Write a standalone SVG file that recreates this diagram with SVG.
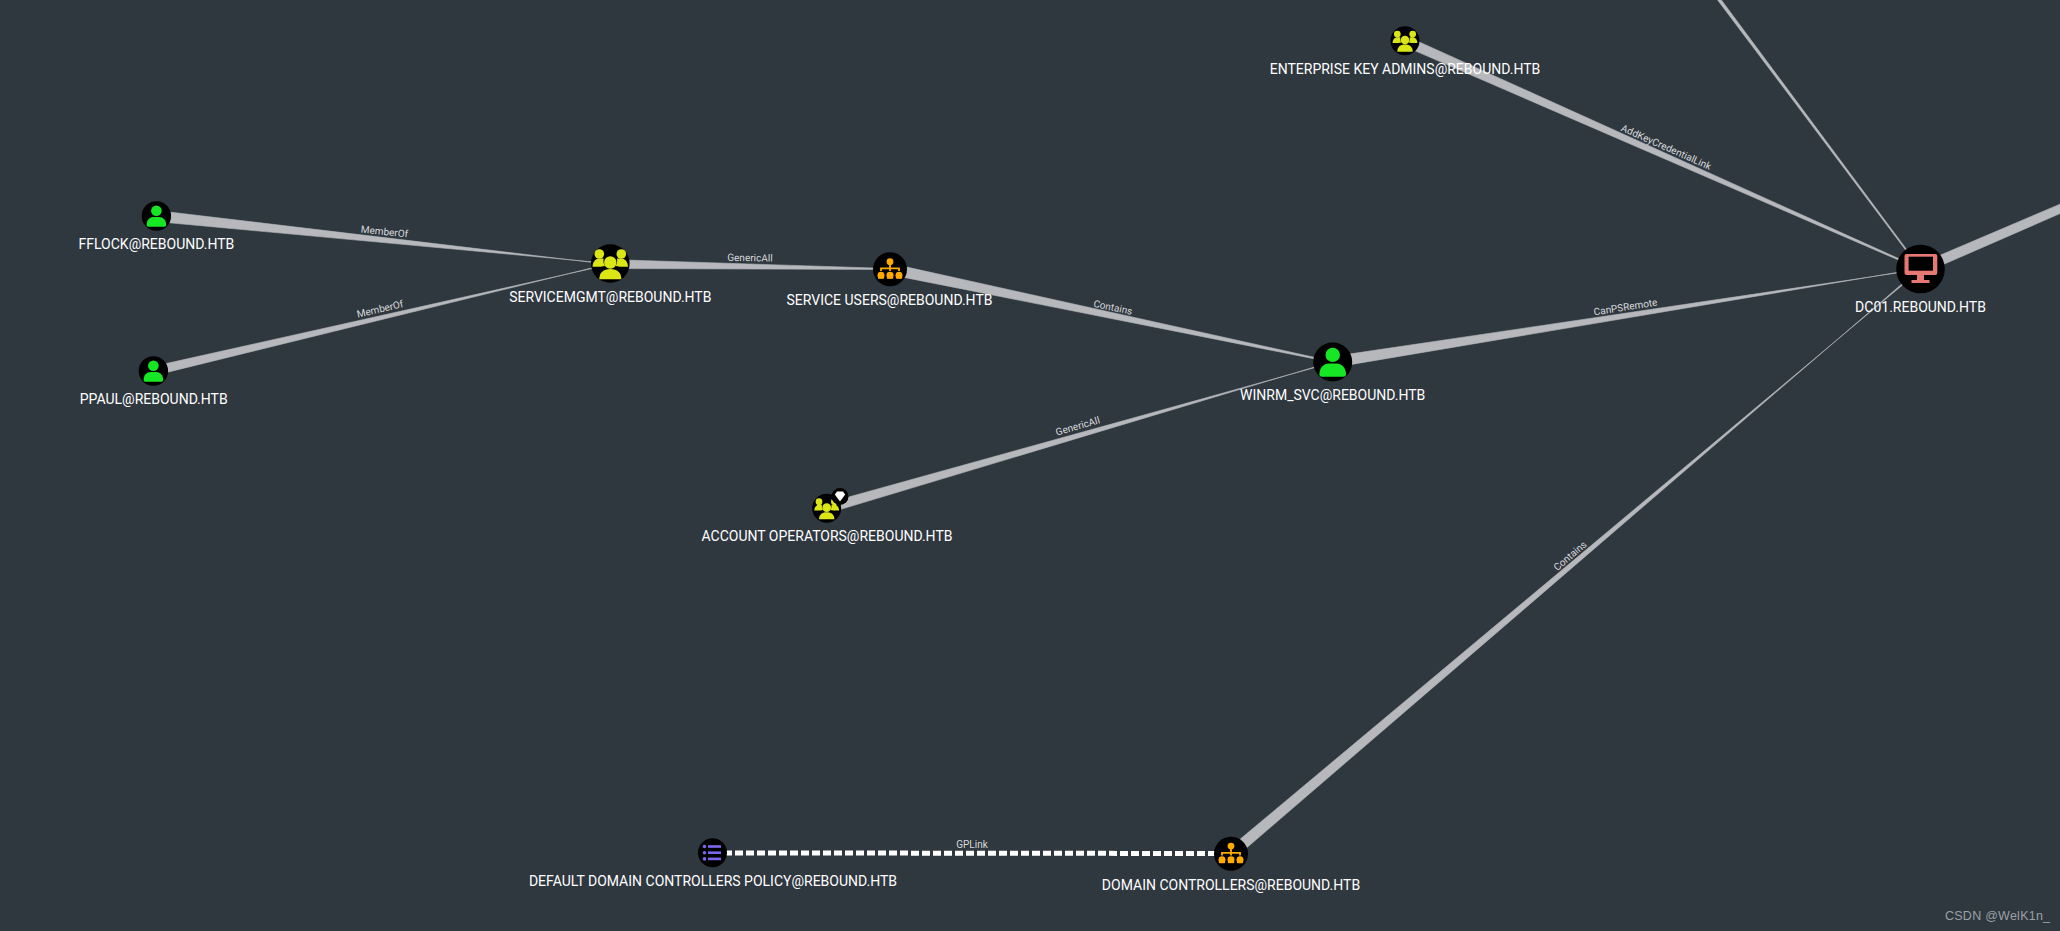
<svg xmlns="http://www.w3.org/2000/svg" width="2060" height="931" viewBox="0 0 2060 931">
<style>
text{font-family:Roboto,"Liberation Sans",sans-serif;text-anchor:middle}
.n{font-size:14px;fill:#fff}
.e{font-size:10px;fill:#d9dadc}
.l{fill:#b6b8bc;stroke:#b6b8bc;stroke-width:.6}
.k{fill:#000}
.u{fill:#17e625}.g{fill:#dbe617}.o{fill:#ffaa00}.c{fill:#e67873}.p{fill:#7b68ee}
.w{font-family:"Liberation Sans",sans-serif;font-size:12.5px;fill:#9ba0a5;text-anchor:start;letter-spacing:.25px}
</style>
<defs>
<symbol id="user" viewBox="-20 -20 40 40" overflow="visible"><circle class="u" cy="-7.500" r="7.600"/><path class="u" d="M-11.500 15.500c-1.500 0-2.500-1-2.500-2.500 0-7 4.500-11.500 10-11.500h8c5.500 0 10 4.500 10 11.500 0 1.500-1 2.500-2.500 2.500z"/></symbol>
<symbol id="group" viewBox="-20 -20 40 40" overflow="visible"><g class="g"><circle cy="-1" r="6.200"/><circle cx="-11" cy="-9.500" r="4.800"/><circle cx="11" cy="-9.500" r="4.800"/><path d="M-11 15.700c0-6.500 4-10.200 11-10.200s11 3.700 11 10.200z"/><path d="M-17.700 3.300c0-5 3-8.300 7-8.300h4c-.5 3 0 5.500 1.500 7.500-1.500.2-3 .4-4.300.8z"/><path d="M17.700 3.300c0-5-3-8.300-7-8.300h-4c.5 3 0 5.500-1.500 7.500 1.500.2 3 .4 4.300.8z"/></g></symbol>
<symbol id="ou" viewBox="-20 -20 40 40" overflow="visible"><g class="o"><circle cy="-8.500" r="3.800"/><circle cx="-10" cy="6.500" r="3.800"/><circle cy="6.500" r="3.800"/><circle cx="10" cy="6.500" r="3.800"/><rect x="-3.500" y="4" width="7" height="6.500"/><rect x="-13.500" y="5.500" width="7" height="5" rx="1"/><rect x="6.500" y="5.500" width="7" height="5" rx="1"/><path d="M-1 -6h2v4h10v4h-2v-2h-8v2h-2v-2h-8v2h-2v-4h10z"/></g></symbol>
</defs>
<rect width="2060" height="931" fill="#2f373f"/>
<g id="connectors">
<polygon class="l" points="155.400,221.500 156.600,210.500 610,264.500 610,263.500"/>
<polygon class="l" points="154.500,375.400 152.500,366.600 610.100,264.500 609.900,263.500"/>
<polygon class="l" points="610.100,268.500 609.900,259.500 890,268.500 890,269.500"/>
<polygon class="l" points="888.900,274.400 891.100,263.600 1333.100,361.500 1332.900,362.500"/>
<polygon class="l" points="828.100,513.100 825.300,503.500 1333.100,362.500 1332.900,361.500"/>
<polygon class="l" points="1333.900,367.400 1332.100,356.600 1920.600,269.500 1920.400,268.500"/>
<polygon class="l" points="1403,45.600 1407,36.400 1920.700,268.500 1920.300,269.500"/>
<polygon class="l" points="1714.600,-3.950 1716.900,-6.050 1920.900,268.700 1920.100,269.300"/>
<polygon class="l" points="1922.500,273.600 1918.500,264.400 2068.300,200.600 2071.700,208.500"/>
<polygon class="l" points="1234.600,858.200 1227.400,849.800 1921,269.600 1920,268.400"/>
<line x1="724" y1="852.900" x2="1215" y2="853.500" stroke="#fff" stroke-width="5" stroke-dasharray="8 3"/>
<text class="e" transform="translate(384.500 231.500) rotate(6)" y="3.500">MemberOf</text>
<text class="e" transform="translate(380 309) rotate(-13.200)" y="3.500">MemberOf</text>
<text class="e" transform="translate(750 257.700) rotate(1)" y="3.500">GenericAll</text>
<text class="e" transform="translate(1113 307.300) rotate(11.900)" y="3.500">Contains</text>
<text class="e" transform="translate(1077.700 426) rotate(-16.100)" y="3.500">GenericAll</text>
<text class="e" transform="translate(1625.500 307) rotate(-9)" y="3.500">CanPSRemote</text>
<text class="e" transform="translate(1666.300 147) rotate(23.900)" y="3.500">AddKeyCredentialLink</text>
<text class="e" transform="translate(1570 555.700) rotate(-40.300)" y="3.500">Contains</text>
<text class="e" x="972" y="847.800">GPLink</text>
</g>
<g id="fflock"><circle class="k" cx="156.400" cy="216" r="14.700"/><use href="#user" x="142.400" y="202" width="28" height="28"/><text class="n" x="156.400" y="249">FFLOCK@REBOUND.HTB</text></g>
<g id="ppaul"><circle class="k" cx="153.400" cy="371" r="14.700"/><use href="#user" x="139.400" y="357" width="28" height="28"/><text class="n" x="153.700" y="403.500">PPAUL@REBOUND.HTB</text></g>
<g id="servicemgmt"><circle class="k" cx="610.300" cy="263.500" r="19.300"/><use href="#group" x="590.300" y="243.500" width="40" height="40"/><text class="n" x="610.300" y="301.700">SERVICEMGMT@REBOUND.HTB</text></g>
<g id="service-users"><circle class="k" cx="890" cy="269.300" r="17"/><use href="#ou" x="872" y="251.300" width="36" height="36"/><text class="n" x="889.500" y="305">SERVICE USERS@REBOUND.HTB</text></g>
<g id="winrm"><circle class="k" cx="1332.700" cy="362" r="19.500"/><use href="#user" x="1313.700" y="343" width="38" height="38"/><text class="n" x="1332.700" y="400">WINRM_SVC@REBOUND.HTB</text></g>
<g id="account-operators"><circle class="k" cx="826.700" cy="508.300" r="14.500"/><use href="#group" x="812.700" y="494.300" width="28" height="28"/><circle class="k" cx="840" cy="496.500" r="8.500"/><path fill="#fff" d="M834.800 494.500l2.200-3h6l2.200 3-5.200 7z"/><text class="n" x="827" y="541">ACCOUNT OPERATORS@REBOUND.HTB</text></g>
<g id="enterprise-key-admins"><circle class="k" cx="1405" cy="40.700" r="14.500"/><use href="#group" x="1391" y="26.700" width="28" height="28"/><text class="n" x="1405" y="74">ENTERPRISE KEY ADMINS@REBOUND.HTB</text></g>
<g id="dc01"><circle class="k" cx="1920.500" cy="269" r="24.300"/><path class="c" d="M1906.500 254h28.800a2 2 0 0 1 2 2v17a2 2 0 0 1-2 2h-11.300v5h5.500v3h-18v-3h5.500v-5h-10.500a2 2 0 0 1-2-2v-17a2 2 0 0 1 2-2z"/><rect class="k" x="1908.600" y="256.700" width="24.400" height="14"/><text class="n" x="1920.500" y="311.700">DC01.REBOUND.HTB</text></g>
<g id="default-policy"><circle class="k" cx="712.500" cy="852.700" r="14.500"/><g class="p"><circle cx="704.500" cy="846.500" r="1.800"/><circle cx="704.500" cy="852.700" r="1.800"/><circle cx="704.500" cy="858.900" r="1.800"/><rect x="708" y="845.200" width="13" height="2.600"/><rect x="708" y="851.400" width="13" height="2.600"/><rect x="708" y="857.600" width="13" height="2.600"/></g><text class="n" x="713" y="886">DEFAULT DOMAIN CONTROLLERS POLICY@REBOUND.HTB</text></g>
<g id="domain-controllers"><circle class="k" cx="1231" cy="853.700" r="17"/><use href="#ou" x="1213" y="835.700" width="36" height="36"/><text class="n" x="1231" y="890">DOMAIN CONTROLLERS@REBOUND.HTB</text></g>
<text class="w" x="1945" y="920">CSDN @WelK1n_</text>
</svg>
